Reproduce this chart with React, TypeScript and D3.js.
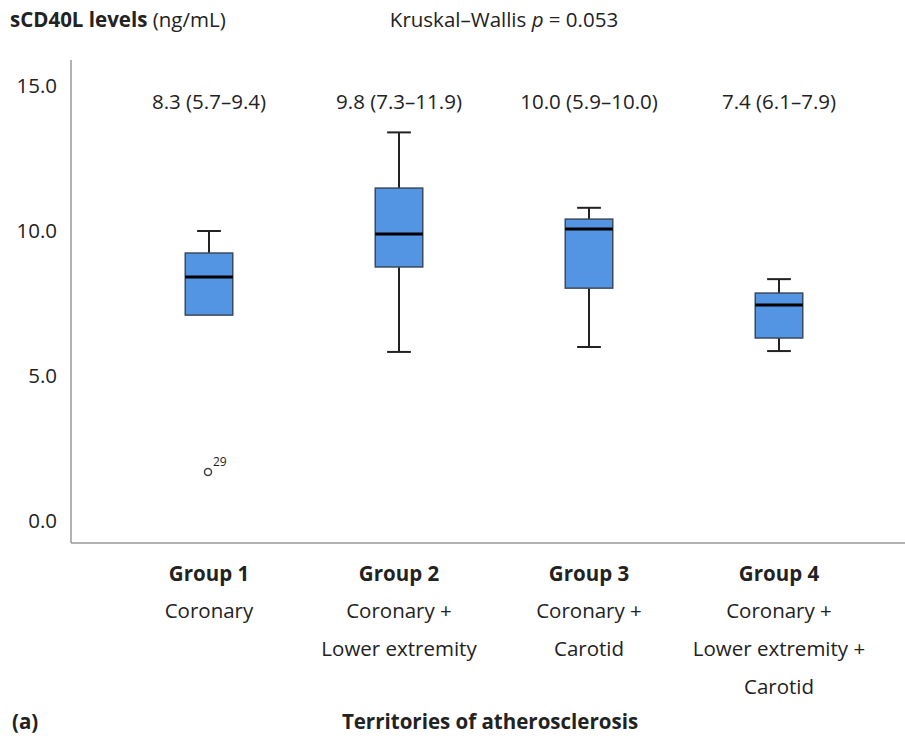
import React from "react";
import * as d3 from "d3";

const groups = ["Group 1", "Group 2", "Group 3", "Group 4"];
const territories = [
    ["Coronary"],
    ["Coronary +", "Lower extremity"],
    ["Coronary +", "Carotid"],
    ["Coronary +", "Lower extremity +", "Carotid"]
];
const medianLabels = ["8.3 (5.7–9.4)", "9.8 (7.3–11.9)", "10.0 (5.9–10.0)", "7.4 (6.1–7.9)"];
const whiskerLow = [7.1, 5.83, 6.0, 5.86];
const q1 = [7.1, 8.76, 8.03, 6.31];
const median = [8.41, 9.9, 10.07, 7.45];
const q3 = [9.24, 11.48, 10.41, 7.86];
const whiskerHigh = [10.0, 13.4, 10.8, 8.34];
const outliers = [{group: "Group 1", value: 1.69, label: "29"}];
const yTicks = [0, 5, 10, 15];

const font = "'Open Sans', sans-serif";
const fs = 20.5;

export default function App() {
    const width = 905;
    const height = 742;
    const axisX = 71;
    const axisBottom = 543;

    const y = d3.scaleLinear().domain([0, 15]).range([521, 86]);
    const x = d3.scaleBand().domain(groups).range([114, 874]);
    const boxW = x.bandwidth() * 0.25;
    const capW = boxW * 0.5;

    return (
        <svg width={width} height={height} style={{position: "absolute", left: 0, top: 0}}
             fontFamily={font} fill="#222">
            <rect width={width} height={height} fill="white"/>
            <text x={10} y={27} fontSize={fs}>
                <tspan fontWeight="bold">sCD40L levels</tspan> (ng/mL)
            </text>
            <text x={504} y={27} fontSize={fs} textAnchor="middle">
                Kruskal–Wallis <tspan fontStyle="italic">p</tspan> = 0.053
            </text>

            <line x1={axisX} x2={axisX} y1={60} y2={axisBottom} stroke="#999" strokeWidth={1.5}/>
            <line x1={axisX} x2={width} y1={axisBottom} y2={axisBottom} stroke="#999" strokeWidth={1.5}/>
            {yTicks.map(t => (
                <text key={t} x={57} y={y(t)} dy="0.35em" fontSize={fs} textAnchor="end">
                    {d3.format(".1f")(t)}
                </text>
            ))}

            {groups.map((g, i) => {
                const cx = (x(g) as number) + x.bandwidth() / 2;
                return (
                    <g key={g}>
                        <text x={cx} y={109} fontSize={fs} textAnchor="middle">{medianLabels[i]}</text>
                        <line x1={cx} x2={cx} y1={y(whiskerHigh[i])} y2={y(q3[i])} stroke="#222" strokeWidth={2}/>
                        <line x1={cx} x2={cx} y1={y(q1[i])} y2={y(whiskerLow[i])} stroke="#222" strokeWidth={2}/>
                        <line x1={cx - capW / 2} x2={cx + capW / 2} y1={y(whiskerHigh[i])} y2={y(whiskerHigh[i])}
                              stroke="#222" strokeWidth={2}/>
                        {whiskerLow[i] < q1[i] && (
                            <line x1={cx - capW / 2} x2={cx + capW / 2} y1={y(whiskerLow[i])} y2={y(whiskerLow[i])}
                                  stroke="#222" strokeWidth={2}/>
                        )}
                        <rect x={cx - boxW / 2} y={y(q3[i])} width={boxW} height={y(q1[i]) - y(q3[i])}
                              fill="#5495e3" stroke="#3a4a5c" strokeWidth={1.5}/>
                        <line x1={cx - boxW / 2} x2={cx + boxW / 2} y1={y(median[i])} y2={y(median[i])}
                              stroke="#000" strokeWidth={3}/>
                        <text x={cx} y={581} fontSize={fs} fontWeight="bold" textAnchor="middle">{g}</text>
                        {territories[i].map((t, j) => (
                            <text key={j} x={cx} y={618 + j * 38} fontSize={fs} textAnchor="middle">{t}</text>
                        ))}
                    </g>
                );
            })}

            {outliers.map(o => {
                const cx = (x(o.group) as number) + x.bandwidth() / 2;
                return (
                    <g key={o.label}>
                        <circle cx={cx - 1} cy={y(o.value)} r={3.5} fill="none" stroke="#444" strokeWidth={1.5}/>
                        <text x={cx + 4} y={y(o.value) - 6} fontSize={12}>{o.label}</text>
                    </g>
                );
            })}

            <text x={12} y={729} fontSize={fs} fontWeight="bold">(a)</text>
            <text x={490} y={729} fontSize={fs} fontWeight="bold" textAnchor="middle">Territories of atherosclerosis</text>
        </svg>
    );
}
